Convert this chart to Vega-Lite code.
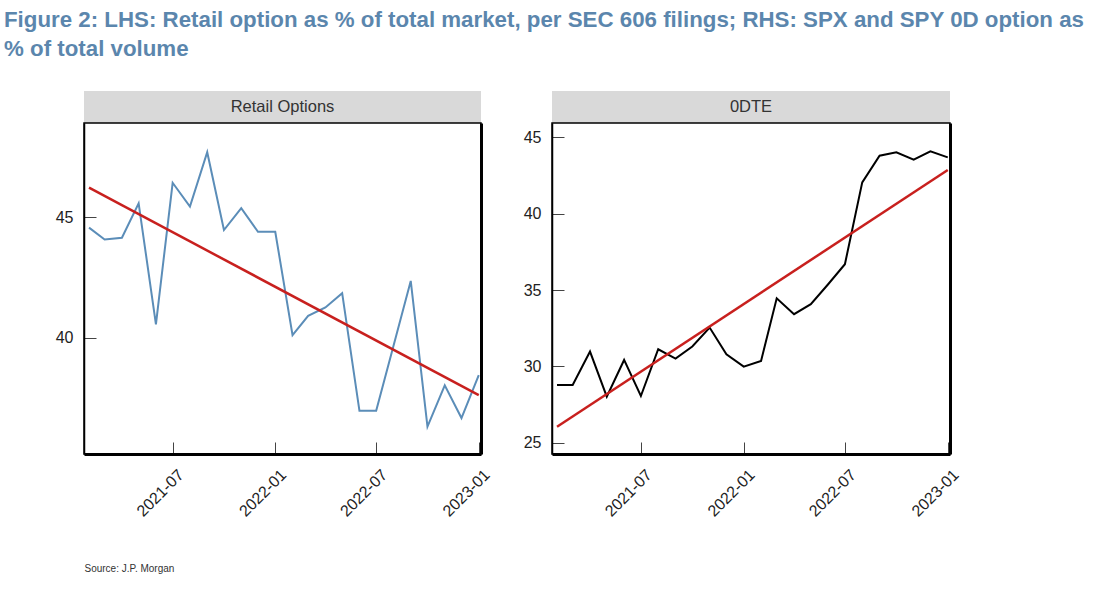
{
  "$schema": "https://vega.github.io/schema/vega-lite/v6.json",
  "background": "white",
  "padding": {"left": 4, "top": 8, "right": 5, "bottom": 5},
  "title": {
    "text": ["Figure 2: LHS: Retail option as % of total market, per SEC 606 filings; RHS: SPX and SPY 0D option as", "% of total volume"],
    "anchor": "start",
    "frame": "group",
    "dx": -80,
    "font": "Liberation Sans",
    "fontSize": 22.3,
    "fontWeight": "bold",
    "color": "#5b86ad",
    "lineHeight": 29,
    "offset": 31
  },
  "datasets": {
    "retail": [
      {"date": "2021-02-01", "value": 44.56},
      {"date": "2021-03-01", "value": 44.07},
      {"date": "2021-04-01", "value": 44.14},
      {"date": "2021-05-01", "value": 45.57},
      {"date": "2021-06-01", "value": 40.55},
      {"date": "2021-07-01", "value": 46.42},
      {"date": "2021-08-01", "value": 45.43},
      {"date": "2021-09-01", "value": 47.69},
      {"date": "2021-10-01", "value": 44.46},
      {"date": "2021-11-01", "value": 45.37},
      {"date": "2021-12-01", "value": 44.39},
      {"date": "2022-01-01", "value": 44.39},
      {"date": "2022-02-01", "value": 40.1},
      {"date": "2022-03-01", "value": 40.9},
      {"date": "2022-04-01", "value": 41.25},
      {"date": "2022-05-01", "value": 41.84},
      {"date": "2022-06-01", "value": 36.96},
      {"date": "2022-07-01", "value": 36.96},
      {"date": "2022-08-01", "value": 39.65},
      {"date": "2022-09-01", "value": 42.35},
      {"date": "2022-10-01", "value": 36.31},
      {"date": "2022-11-01", "value": 38.02},
      {"date": "2022-12-01", "value": 36.66},
      {"date": "2023-01-01", "value": 38.44}
    ],
    "retailTrend": [
      {"date": "2021-02-01", "value": 46.22},
      {"date": "2023-01-01", "value": 37.61}
    ],
    "odte": [
      {"date": "2021-02-01", "value": 28.78},
      {"date": "2021-03-01", "value": 28.78},
      {"date": "2021-04-01", "value": 30.97},
      {"date": "2021-05-01", "value": 28.02},
      {"date": "2021-06-01", "value": 30.42},
      {"date": "2021-07-01", "value": 28.06},
      {"date": "2021-08-01", "value": 31.12},
      {"date": "2021-09-01", "value": 30.51},
      {"date": "2021-10-01", "value": 31.3},
      {"date": "2021-11-01", "value": 32.54},
      {"date": "2021-12-01", "value": 30.79},
      {"date": "2022-01-01", "value": 29.98},
      {"date": "2022-02-01", "value": 30.36},
      {"date": "2022-03-01", "value": 34.46},
      {"date": "2022-04-01", "value": 33.42},
      {"date": "2022-05-01", "value": 34.07},
      {"date": "2022-06-01", "value": 35.38},
      {"date": "2022-07-01", "value": 36.69},
      {"date": "2022-08-01", "value": 42.05},
      {"date": "2022-09-01", "value": 43.8},
      {"date": "2022-10-01", "value": 44.02},
      {"date": "2022-11-01", "value": 43.54},
      {"date": "2022-12-01", "value": 44.08},
      {"date": "2023-01-01", "value": 43.69}
    ],
    "odteTrend": [
      {"date": "2021-02-01", "value": 26.05},
      {"date": "2023-01-01", "value": 42.86}
    ]
  },
  "config": {
    "font": "Liberation Sans",
    "view": {"stroke": "black", "strokeWidth": 1.5},
    "axis": {
      "grid": false,
      "domainColor": "black",
      "tickColor": "#444",
      "tickSize": -12,
      "labelColor": "#222",
      "labelFont": "Liberation Sans"
    }
  },
  "columns": 2,
  "bounds": "flush",
  "spacing": {"row": 0, "column": 71},
  "concat": [
    {
      "width": 397,
      "height": 32,
      "view": {"fill": "#d9d9d9", "stroke": null},
      "data": {"values": [{"panel": "Retail Options"}]},
      "mark": {"type": "text", "fontSize": 16.5, "color": "#333"},
      "encoding": {"text": {"field": "panel"}}
    },
    {
      "width": 398,
      "height": 32,
      "view": {"fill": "#d9d9d9", "stroke": null},
      "data": {"values": [{"panel": "0DTE"}]},
      "mark": {"type": "text", "fontSize": 16.5, "color": "#333"},
      "encoding": {"text": {"field": "panel"}}
    },
    {
      "width": 397,
      "height": 331,
      "resolve": {"axis": {"y": "independent"}},
      "layer": [
        {
          "data": {"name": "retail"},
          "mark": {"type": "line", "color": "#5b8db8", "strokeWidth": 2},
          "encoding": {
            "x": {
              "field": "date",
              "type": "temporal",
              "scale": {"type": "utc", "domain": [{"year": 2021, "month": 1, "date": 23, "utc": true}, {"year": 2023, "month": 1, "date": 5, "utc": true}]},
              "axis": {
                "values": [
                  {"year": 2021, "month": 7, "date": 1, "utc": true},
                  {"year": 2022, "month": 1, "date": 1, "utc": true},
                  {"year": 2022, "month": 7, "date": 1, "utc": true},
                  {"year": 2023, "month": 1, "date": 1, "utc": true}
                ],
                "format": "%Y-%m",
                "labelAngle": -45,
                "labelAlign": "right",
                "labelBaseline": "middle",
                "labelFontSize": 16,
                "labelPadding": 30,
                "labelOffset": 8,
                "domainWidth": 3,
                "title": "Source: J.P. Morgan",
                "titleAnchor": "start",
                "titleFontSize": 10,
                "titleFontWeight": "normal",
                "titleColor": "#333",
                "titlePadding": 44
              }
            },
            "y": {
              "field": "value",
              "type": "quantitative",
              "scale": {"domain": [35.17, 48.9], "zero": false, "nice": false},
              "axis": {"values": [40, 45], "labelFontSize": 16, "labelPadding": 23, "title": null, "domainWidth": 1.5}
            }
          }
        },
        {
          "data": {"name": "retailTrend"},
          "mark": {"type": "line", "color": "#c8201e", "strokeWidth": 2.5},
          "encoding": {
            "x": {"field": "date", "type": "temporal"},
            "y": {
              "field": "value",
              "type": "quantitative",
              "axis": {"orient": "right", "labels": false, "ticks": false, "domainWidth": 3, "title": null}
            }
          }
        }
      ]
    },
    {
      "width": 398,
      "height": 331,
      "resolve": {"axis": {"y": "independent"}},
      "layer": [
        {
          "data": {"name": "odte"},
          "mark": {"type": "line", "color": "black", "strokeWidth": 2},
          "encoding": {
            "x": {
              "field": "date",
              "type": "temporal",
              "scale": {"type": "utc", "domain": [{"year": 2021, "month": 1, "date": 23, "utc": true}, {"year": 2023, "month": 1, "date": 5, "utc": true}]},
              "axis": {
                "values": [
                  {"year": 2021, "month": 7, "date": 1, "utc": true},
                  {"year": 2022, "month": 1, "date": 1, "utc": true},
                  {"year": 2022, "month": 7, "date": 1, "utc": true},
                  {"year": 2023, "month": 1, "date": 1, "utc": true}
                ],
                "format": "%Y-%m",
                "labelAngle": -45,
                "labelAlign": "right",
                "labelBaseline": "middle",
                "labelFontSize": 16,
                "labelPadding": 30,
                "labelOffset": 8,
                "domainWidth": 3,
                "title": null
              }
            },
            "y": {
              "field": "value",
              "type": "quantitative",
              "scale": {"domain": [24.26, 45.94], "zero": false, "nice": false},
              "axis": {"values": [25, 30, 35, 40, 45], "labelFontSize": 16, "labelPadding": 23, "title": null, "domainWidth": 1.5}
            }
          }
        },
        {
          "data": {"name": "odteTrend"},
          "mark": {"type": "line", "color": "#c8201e", "strokeWidth": 2.5},
          "encoding": {
            "x": {"field": "date", "type": "temporal"},
            "y": {
              "field": "value",
              "type": "quantitative",
              "axis": {"orient": "right", "labels": false, "ticks": false, "domainWidth": 3, "title": null}
            }
          }
        }
      ]
    }
  ]
}
